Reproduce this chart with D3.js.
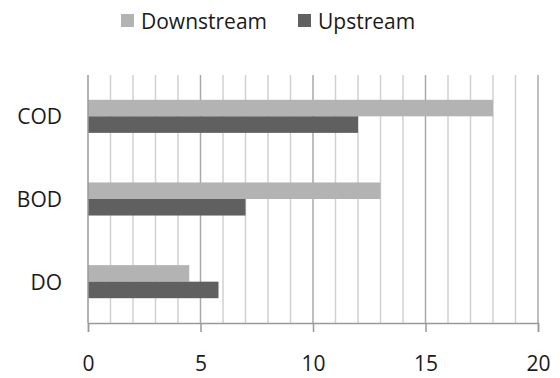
<!DOCTYPE html>
<html>
<head>
<meta charset="utf-8">
<script src="https://cdn.jsdelivr.net/npm/d3@7"></script>
<style>
  html, body { margin: 0; padding: 0; background: #fff; }
  svg { display: block; }
  text { font-family: "Open Sans", "Noto Sans", sans-serif; fill: #1a1a1a; }
</style>
</head>
<body>
<svg id="chart" width="560" height="378"></svg>
<script>
// Water quality parameters (mg/L) measured downstream and upstream
const categories = ["COD", "BOD", "DO"];
const seriesNames = ["Downstream", "Upstream"];
const downstream = [18, 13, 4.5];
const upstream = [12, 7, 5.8];
const xTicks = [0, 5, 10, 15, 20];
const colors = { Downstream: "#b3b3b3", Upstream: "#606060" };

const svg = d3.select("#chart");
const margin = { left: 88, right: 22, top: 75, bottom: 55 };
const W = 560, H = 378;
const plotW = W - margin.left - margin.right;
const plotH = H - margin.top - margin.bottom;

const g = svg.append("g").attr("transform", `translate(${margin.left},${margin.top})`);

const x = d3.scaleLinear().domain([0, 20]).range([0, plotW]);
const y = d3.scaleBand().domain(categories).range([0, plotH])
  .paddingInner(0.6).paddingOuter(0.3);
const ySub = d3.scaleBand().domain(seriesNames).range([0, y.bandwidth()]);

// vertical gridlines every unit; multiples of five are drawn darker
g.append("g").selectAll("line")
  .data(d3.range(1, 21))
  .join("line")
  .attr("x1", d => x(d)).attr("x2", d => x(d))
  .attr("y1", 0).attr("y2", plotH)
  .attr("stroke", d => d % 5 === 0 ? "#a8a8a8" : "#d0d0d0")
  .attr("stroke-width", 1.5);

// bars
const rows = categories.map((c, i) => ({ cat: c, Downstream: downstream[i], Upstream: upstream[i] }));
const groups = g.append("g").selectAll("g")
  .data(rows)
  .join("g")
  .attr("transform", d => `translate(0,${y(d.cat)})`);
groups.selectAll("rect")
  .data(d => seriesNames.map(s => ({ s, v: d[s] })))
  .join("rect")
  .attr("x", x(0))
  .attr("y", d => ySub(d.s))
  .attr("width", d => x(d.v) - x(0))
  .attr("height", ySub.bandwidth())
  .attr("fill", d => colors[d.s]);

// left axis line (no ticks)
g.append("line")
  .attr("x1", 0).attr("x2", 0).attr("y1", 0).attr("y2", plotH)
  .attr("stroke", "#9a9a9a").attr("stroke-width", 1.5);

// category labels
g.append("g").selectAll("text")
  .data(categories)
  .join("text")
  .attr("x", -26)
  .attr("y", d => y(d) + y.bandwidth() / 2)
  .attr("text-anchor", "end")
  .attr("dominant-baseline", "central")
  .attr("font-size", 21)
  .text(d => d);

// bottom axis
const xAxis = d3.axisBottom(x).tickValues(xTicks).tickSize(9).tickPadding(24).tickFormat(d3.format("d"));
const ax = g.append("g").attr("transform", `translate(0,${plotH})`).call(xAxis);
ax.select(".domain").attr("stroke", "#9a9a9a").attr("stroke-width", 1.5);
ax.selectAll(".tick line").attr("stroke", "#9a9a9a").attr("stroke-width", 1.5);
ax.selectAll(".tick text")
  .attr("font-size", 21)
  .attr("font-family", "'Open Sans', 'Noto Sans', sans-serif")
  .attr("fill", "#1a1a1a");

// legend
const legend = svg.append("g");
const legendItems = [
  { name: "Downstream", x: 121 },
  { name: "Upstream", x: 298 }
];
const li = legend.selectAll("g")
  .data(legendItems)
  .join("g")
  .attr("transform", d => `translate(${d.x},14)`);
li.append("rect")
  .attr("width", 13).attr("height", 13)
  .attr("fill", d => colors[d.name]);
li.append("text")
  .attr("x", 20).attr("y", 7)
  .attr("dominant-baseline", "central")
  .attr("font-size", 21)
  .text(d => d.name);
</script>
</body>
</html>
